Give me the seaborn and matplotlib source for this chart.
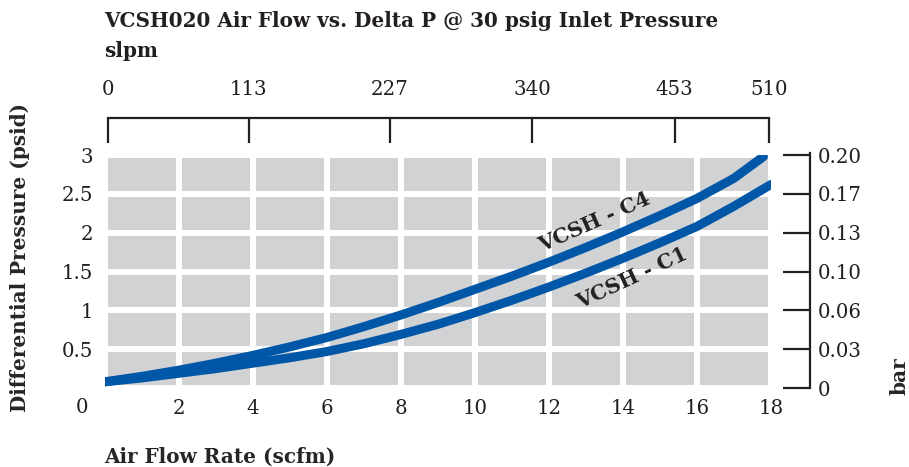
import pandas as pd
import seaborn as sns
import matplotlib.pyplot as plt

# Curve data (scfm vs psid)
c4_flow = [0, 1, 2, 3, 4, 5, 6, 7, 8, 9, 10, 11, 12, 13, 14, 15, 16, 17, 17.8]
c4_dp = [0.08, 0.15, 0.23, 0.32, 0.42, 0.53, 0.65, 0.79, 0.94, 1.10, 1.27,
         1.44, 1.62, 1.81, 2.01, 2.22, 2.44, 2.70, 2.98]
c1_flow = [0, 1, 2, 3, 4, 5, 6, 7, 8, 9, 10, 11, 12, 13, 14, 15, 16, 17, 18]
c1_dp = [0.08, 0.13, 0.19, 0.25, 0.32, 0.39, 0.47, 0.57, 0.69, 0.82, 0.97,
         1.13, 1.30, 1.48, 1.67, 1.87, 2.08, 2.34, 2.62]

# Axis ticks
scfm_ticks = [2, 4, 6, 8, 10, 12, 14, 16, 18]
psid_ticks = [0.5, 1, 1.5, 2, 2.5, 3]
slpm_pos = [0.1, 3.9, 7.7, 11.55, 15.4, 17.95]
slpm_labels = ["0", "113", "227", "340", "453", "510"]
bar_pos = [0, 0.5, 1, 1.5, 2, 2.5, 3]
bar_labels = ["0", "0.03", "0.06", "0.10", "0.13", "0.17", "0.20"]

blue = "#0057a8"
gray = "#d1d2d4"
ink = "#231f20"

df = pd.concat([
    pd.DataFrame({"flow": c4_flow, "dp": c4_dp, "model": "VCSH - C4"}),
    pd.DataFrame({"flow": c1_flow, "dp": c1_dp, "model": "VCSH - C1"}),
])

sns.set_theme(style="white")
plt.rcParams["font.family"] = ["DejaVu Serif"]
plt.rcParams["text.color"] = ink

tick_fs = 14.2
lab_fs = 14.4

fig = plt.figure(figsize=(9.09, 4.67), dpi=100)
ax = fig.add_axes([0.115, 0.169, 0.733, 0.499])
ax.set_facecolor(gray)

sns.lineplot(data=df, x="flow", y="dp", hue="model", palette=[blue, blue],
             linewidth=6.5, legend=False, ax=ax, sort=False)

ax.set_xlim(0, 18)
ax.set_ylim(0, 3)
ax.set_xticks([0] + scfm_ticks)
ax.set_yticks([0] + psid_ticks)
ax.grid(True, color="white", linewidth=4.3)
ax.set_axisbelow(True)
for s in ax.spines.values():
    s.set_visible(False)
ax.tick_params(axis="both", length=0, labelsize=tick_fs, labelcolor=ink)
ax.tick_params(axis="x", pad=8)
ax.tick_params(axis="y", pad=8)
ax.set_xticklabels([""] + [str(t) for t in scfm_ticks])
ax.set_yticklabels([""] + ["0.5", "1", "1.5", "2", "2.5", "3"])
ax.annotate("0", xy=(0, 0), xycoords="data", xytext=(-16, -14),
            textcoords="offset points", ha="center", va="center", fontsize=tick_fs)

ax.set_xlabel("Air Flow Rate (scfm)", fontsize=lab_fs, fontweight="bold", loc="left")
ax.xaxis.set_label_coords(0.0, -0.25)
ax.set_ylabel("Differential Pressure (psid)", fontsize=lab_fs, fontweight="bold")
ax.yaxis.set_label_coords(-0.112, 0.56)

# Curve labels
ax.text(13.24, 2.14, "VCSH - C4", rotation=24, fontsize=14.8, fontweight="bold",
        ha="center", va="center", rotation_mode="anchor")
ax.text(14.26, 1.42, "VCSH - C1", rotation=25, fontsize=14.8, fontweight="bold",
        ha="center", va="center", rotation_mode="anchor")

# Top slpm axis
top = ax.twiny()
top.set_xlim(0, 18)
top.set_xticks(slpm_pos)
top.set_xticklabels(slpm_labels)
for s in ["left", "right", "bottom"]:
    top.spines[s].set_visible(False)
top.spines["top"].set_position(("outward", 27))
top.spines["top"].set_bounds(slpm_pos[0], slpm_pos[-1])
top.spines["top"].set_linewidth(1.6)
top.spines["top"].set_color(ink)
top.tick_params(axis="x", direction="in", length=18, width=1.6, color=ink,
                pad=13, labelsize=tick_fs, labelcolor=ink)

# Right bar axis
right = ax.twinx()
right.set_ylim(0, 3)
right.set_yticks(bar_pos)
right.set_yticklabels(bar_labels)
for s in ["left", "top", "bottom"]:
    right.spines[s].set_visible(False)
right.spines["right"].set_position(("outward", 28))
right.spines["right"].set_bounds(0, 3.02)
right.spines["right"].set_linewidth(1.6)
right.spines["right"].set_color(ink)
right.tick_params(axis="y", direction="in", length=19.5, width=1.6, color=ink,
                  pad=6, labelsize=tick_fs, labelcolor=ink)
right.set_ylabel("bar", fontsize=lab_fs, fontweight="bold", loc="bottom")
right.yaxis.set_label_coords(1.178, -0.03)

fig.text(0.115, 0.955, "VCSH020 Air Flow vs. Delta P @ 30 psig Inlet Pressure",
         fontsize=lab_fs, fontweight="bold", ha="left", va="center")
fig.text(0.115, 0.89, "slpm", fontsize=lab_fs, fontweight="bold", ha="left", va="center")

fig.savefig("out.png", dpi=100)
